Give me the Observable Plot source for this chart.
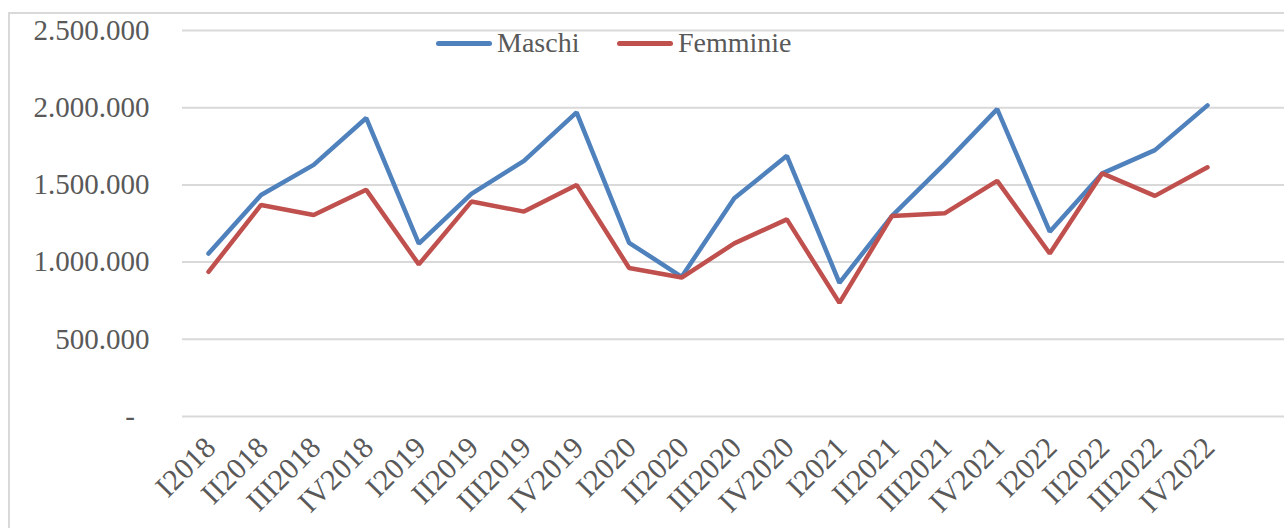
<!DOCTYPE html>
<html>
<head>
<meta charset="utf-8">
<script src="https://cdn.jsdelivr.net/npm/d3@7"></script>
<script src="https://cdn.jsdelivr.net/npm/@observablehq/plot@0.6"></script>
<style>
  html, body { margin: 0; padding: 0; background: #fff; overflow: hidden; width: 1284px; height: 528px; }
  #wrap { position: relative; width: 1284px; height: 528px; }
  #frame { position: absolute; left: 8px; top: 12px; width: 1400px; height: 700px; border: 2px solid #d9d9d9; box-sizing: border-box; }
  #chart { position: absolute; left: 0; top: 0; }
  .leg { position: absolute; font-family: "Liberation Serif", serif; font-size: 28px; color: #595959; line-height: 28px; }
  .sw { position: absolute; height: 5px; border-radius: 3px; }
</style>
</head>
<body>
<div id="wrap">
  <div id="frame"></div>
  <div id="chart"></div>
  <div id="legend"></div>
</div>
<script>
const quarters = ["I2018","II2018","III2018","IV2018","I2019","II2019","III2019","IV2019","I2020","II2020","III2020","IV2020","I2021","II2021","III2021","IV2021","I2022","II2022","III2022","IV2022"];
const maschi = [1055000,1435000,1630000,1933000,1120000,1442000,1656000,1970000,1125000,905000,1413000,1688000,866000,1300000,1636000,1991000,1197000,1575000,1725000,2015000];
const femminie = [937000,1370000,1305000,1468000,985000,1392000,1327000,1500000,962000,900000,1121000,1277000,736000,1299000,1316000,1526000,1056000,1575000,1429000,1614000];
const seriesNames = ["Maschi","Femminie"];
const seriesColors = ["#4f81bd","#c0504d"];
const yTicks = [0,500000,1000000,1500000,2000000,2500000];

const data = [];
quarters.forEach((q,i) => {
  data.push({q, v: maschi[i], s: seriesNames[0]});
  data.push({q, v: femminie[i], s: seriesNames[1]});
});

const it = d3.formatLocale({decimal: ",", thousands: ".", grouping: [3], currency: ["€",""]});
const fmt = it.format(",");

const chart = Plot.plot({
  width: 1284,
  height: 528,
  marginLeft: 182,
  marginRight: 0,
  marginTop: 30,
  marginBottom: 112,
  style: {fontFamily: "Liberation Serif, serif", fontSize: "28px", color: "#595959", background: "transparent"},
  x: {type: "point", domain: quarters, range: [208, 1207], padding: 0, round: false, label: null},
  y: {domain: [0, 2500000], label: null},
  color: {domain: seriesNames, range: seriesColors},
  marks: [
    Plot.gridY(yTicks, {stroke: "#d9d9d9", strokeOpacity: 1, strokeWidth: 2}),
    Plot.axisY(yTicks, {tickSize: 0, tickPadding: 33, label: null, fontSize: 29, tickFormat: d => d === 0 ? "-\u00a0\u00a0" : fmt(d), fill: "#595959"}),
    Plot.axisX({tickSize: 0, tickPadding: 26, dx: 2, tickRotate: -45, fontSize: 30, label: null, fill: "#595959"}),
    Plot.line(data, {x: "q", y: "v", z: "s", stroke: "s", strokeWidth: 4.5, strokeLinecap: "round", strokeLinejoin: "miter"})
  ]
});
document.getElementById("chart").appendChild(chart);

const legend = document.getElementById("legend");
const legPos = [[436, 497], [617, 678]];
seriesNames.forEach((n, i) => {
  const sw = document.createElement("div");
  sw.className = "sw";
  sw.style.left = legPos[i][0] + "px";
  sw.style.top = "41px";
  sw.style.width = "56px";
  sw.style.background = seriesColors[i];
  legend.appendChild(sw);
  const t = document.createElement("div");
  t.className = "leg";
  t.style.left = legPos[i][1] + "px";
  t.style.top = "29px";
  t.textContent = n;
  legend.appendChild(t);
});
</script>
</body>
</html>
